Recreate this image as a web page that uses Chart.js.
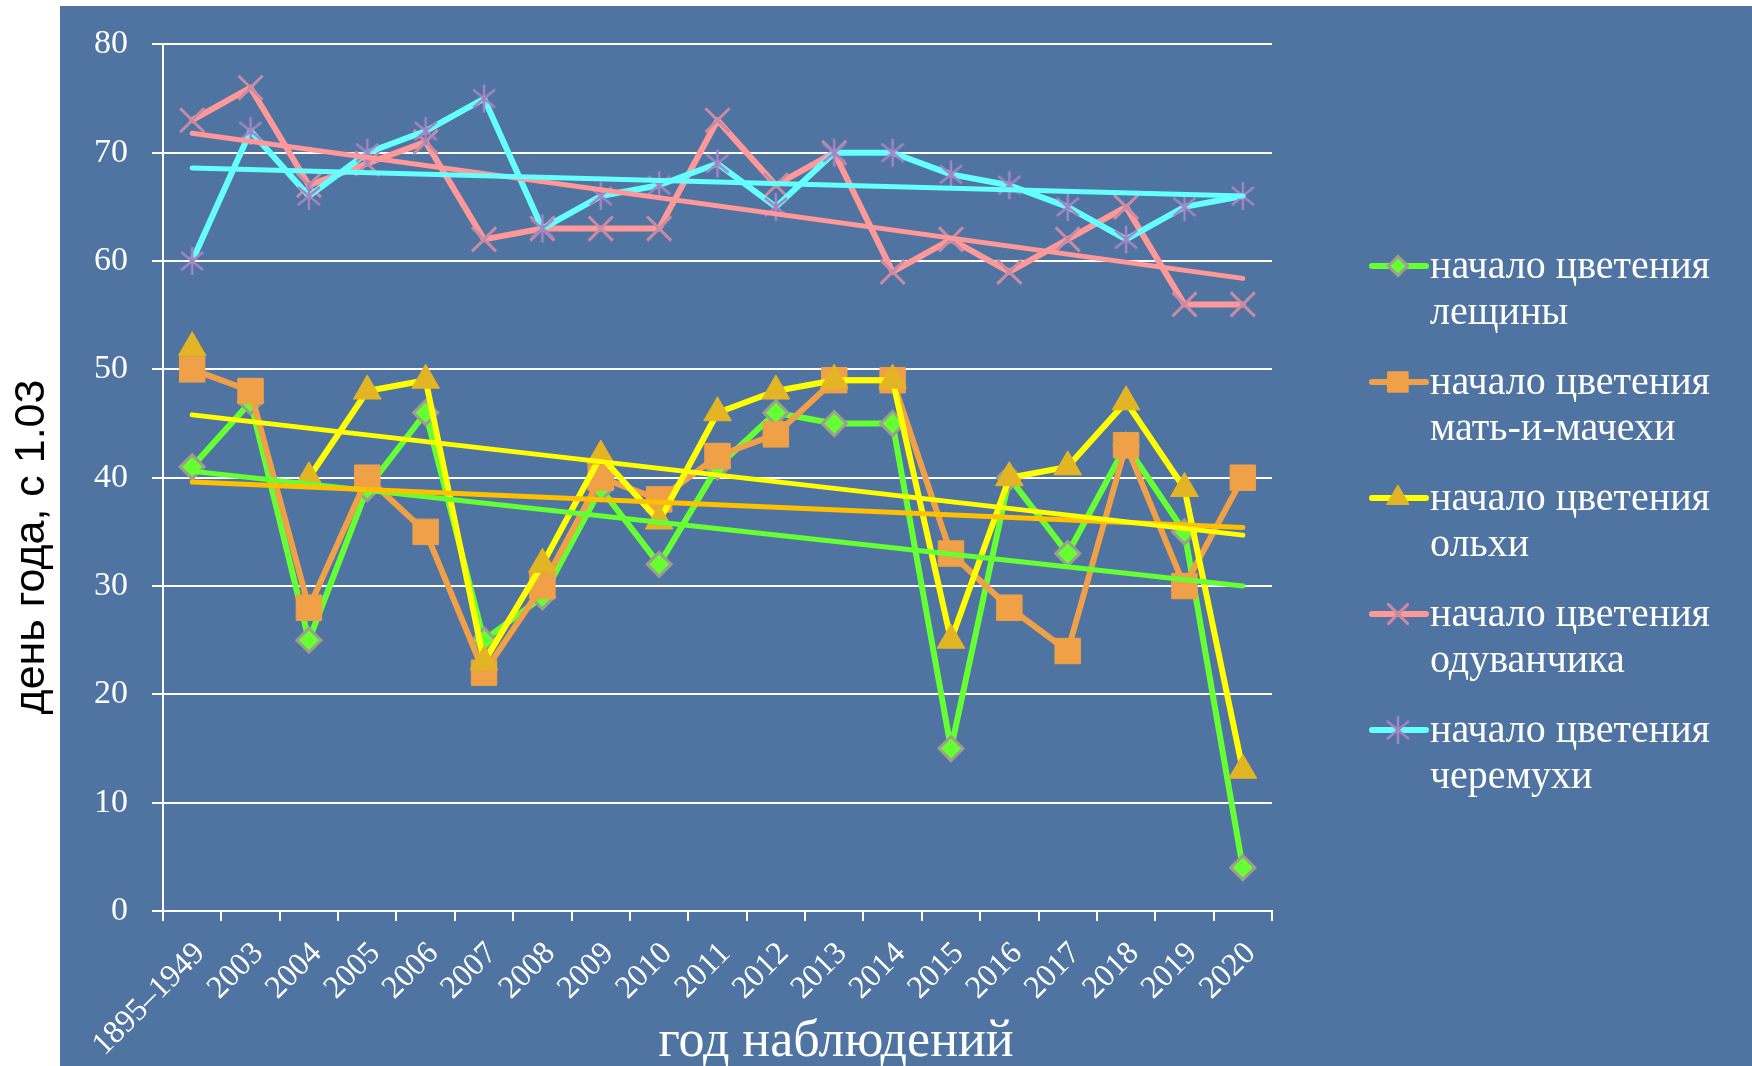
<!DOCTYPE html>
<html>
<head>
<meta charset="utf-8">
<script src="https://cdn.jsdelivr.net/npm/chart.js@4.4.1/dist/chart.umd.min.js"></script>
<style>
  html, body { margin: 0; padding: 0; background: #fff; }
  #wrap { width: 1752px; height: 1066px; }
</style>
</head>
<body>
<div id="wrap"><canvas id="myChart" width="1752" height="1066"></canvas></div>
<script>
// data
const years = ['1895–1949', '2003', '2004', '2005', '2006', '2007', '2008', '2009', '2010', '2011',
  '2012', '2013', '2014', '2015', '2016', '2017', '2018', '2019', '2020'];
const hazel = [41, 47, 25, 39, 46, 25, 29, 39, 32, 41, 46, 45, 45, 15, 40, 33, 43, 35, 4];
const coltsfoot = [50, 48, 28, 40, 35, 22, 30, 40, 38, 42, 44, 49, 49, 33, 28, 24, 43, 30, 40];
const alder = [52, null, 40, 48, 49, 23, 32, 42, 36, 46, 48, 49, 49, 25, 40, 41, 47, 39, 13];
const dandelion = [73, 76, 67, 69, 71, 62, 63, 63, 63, 73, 67, 70, 59, 62, 59, 62, 65, 56, 56];
const birdCherry = [60, 72, 66, 70, 72, 75, 63, 66, 67, 69, 65, 70, 70, 68, 67, 65, 62, 65, 66];

// trend lines: value at first and last year
const hazelTrend = [40.6, 30.0];
const coltsfootTrend = [39.6, 35.4];
const alderTrend = [45.8, 34.7];
const dandelionTrend = [71.8, 58.4];
const birdCherryTrend = [68.6, 66.0];

const seriesNames = ['начало цветения лещины', 'начало цветения мать-и-мачехи',
  'начало цветения ольхи', 'начало цветения одуванчика', 'начало цветения черемухи'];
const yTicks = [0, 10, 20, 30, 40, 50, 60, 70, 80];
const yTitle = 'день года, с 1.03';
const xTitle = 'год наблюдений';

// excel style asterisk marker (vertical bar + X)
function makeStar(color) {
  const c = document.createElement('canvas');
  c.width = 30; c.height = 30;
  const g = c.getContext('2d');
  g.strokeStyle = color;
  g.lineWidth = 2.5;
  g.beginPath();
  g.moveTo(15, 1); g.lineTo(15, 29);
  g.moveTo(4, 6); g.lineTo(26, 24);
  g.moveTo(26, 6); g.lineTo(4, 24);
  g.stroke();
  return c;
}
const starMark = makeStar('#a385c2');

function trendData(t) {
  return years.map((_, i) => i === 0 ? t[0] : (i === years.length - 1 ? t[1] : null));
}

function series(label, data, color, extra) {
  return Object.assign({
    label: label, data: data, borderColor: color, borderWidth: 6,
    borderJoinStyle: 'round', borderCapStyle: 'round', spanGaps: false
  }, extra);
}
function trend(data, color, order) {
  return {
    label: 'trend', isTrend: true, data: trendData(data), borderColor: color, borderWidth: 5,
    borderCapStyle: 'round', pointRadius: 0, spanGaps: true, order: order
  };
}

const datasets = [
  series(seriesNames[0], hazel, '#66ff33', { pointStyle: 'rectRot', pointRadius: 12,
    pointBackgroundColor: '#66ff33', pointBorderColor: '#9c9f8c', pointBorderWidth: 3, order: 10 }),
  series(seriesNames[1], coltsfoot, '#f0a046', { pointStyle: 'rect', pointRadius: 18,
    pointBackgroundColor: '#f0a046', pointBorderColor: '#f0a046', pointBorderWidth: 1, order: 9 }),
  series(seriesNames[2], alder, '#ffff00', { pointStyle: 'triangle', pointRadius: 16,
    pointBackgroundColor: '#e3b524', pointBorderColor: '#e3b524', pointBorderWidth: 1, order: 8 }),
  series(seriesNames[3], dandelion, '#ff9999', { pointStyle: 'crossRot', pointRadius: 17,
    pointBackgroundColor: '#c98aa4', pointBorderColor: '#c98aa4', pointBorderWidth: 3, order: 7 }),
  series(seriesNames[4], birdCherry, '#66ffff', { pointStyle: starMark, pointRadius: 15,
    pointBackgroundColor: '#a385c2', pointBorderColor: '#a385c2', pointBorderWidth: 0, order: 6 }),
  trend(hazelTrend, '#66ff33', 5),
  trend(coltsfootTrend, '#ffc000', 4),
  trend(alderTrend, '#ffff00', 3),
  trend(dandelionTrend, '#ff9999', 2),
  trend(birdCherryTrend, '#66ffff', 1)
];

// blue slide background, white strip on top and left
const bgPlugin = {
  id: 'bg',
  beforeDraw(chart) {
    const ctx = chart.ctx;
    ctx.save();
    ctx.fillStyle = '#ffffff';
    ctx.fillRect(0, 0, chart.width, chart.height);
    ctx.fillStyle = '#4f74a2';
    ctx.fillRect(60, 6, chart.width - 60, chart.height - 6);
    ctx.restore();
  }
};

// axis titles + two-line legend on the right
const sidePlugin = {
  id: 'side',
  afterDraw(chart) {
    const ctx = chart.ctx;
    ctx.save();
    ctx.fillStyle = '#000';
    ctx.font = '43px "Liberation Sans"';
    ctx.textAlign = 'center';
    ctx.textBaseline = 'middle';
    ctx.translate(32, 547);
    ctx.rotate(-Math.PI / 2);
    ctx.fillText(yTitle, 0, 0);
    ctx.restore();

    ctx.save();
    ctx.fillStyle = '#fff';
    ctx.font = '52px "Liberation Serif"';
    ctx.textAlign = 'center';
    ctx.textBaseline = 'middle';
    ctx.fillText(xTitle, 836, 1042);
    ctx.restore();

    const items = chart.data.datasets.filter(d => !d.isTrend);
    items.forEach((ds, i) => {
      const y = 266 + i * 116;
      ctx.save();
      ctx.strokeStyle = ds.borderColor;
      ctx.lineWidth = 6;
      ctx.lineCap = 'round';
      ctx.beginPath();
      ctx.moveTo(1372, y);
      ctx.lineTo(1426, y);
      ctx.stroke();
      ctx.fillStyle = ds.pointBackgroundColor;
      ctx.strokeStyle = ds.pointBorderColor;
      ctx.lineWidth = ds.pointBorderWidth;
      Chart.helpers.drawPoint(ctx, {
        pointStyle: ds.pointStyle, radius: ds.pointRadius * 0.8,
        borderWidth: ds.pointBorderWidth, rotation: 0
      }, 1398, y);
      ctx.fillStyle = '#fff';
      ctx.font = '40px "Liberation Serif"';
      ctx.textAlign = 'left';
      ctx.textBaseline = 'alphabetic';
      const words = ds.label.split(' ');
      ctx.fillText(words.slice(0, 2).join(' '), 1430, y + 12);
      ctx.fillText(words.slice(2).join(' '), 1430, y + 58);
      ctx.restore();
    });
  }
};

Chart.defaults.font.family = '"Liberation Serif"';

new Chart(document.getElementById('myChart').getContext('2d'), {
  type: 'line',
  data: { labels: years, datasets: datasets },
  options: {
    responsive: false,
    animation: false,
    devicePixelRatio: 1,
    layout: { padding: { top: 36, right: 480, left: 0, bottom: 0 } },
    plugins: { legend: { display: false }, tooltip: { enabled: false } },
    scales: {
      x: {
        offset: true,
        grid: { offset: true, drawOnChartArea: false, color: '#fff', lineWidth: 2, tickLength: 10 },
        border: { color: '#fff', width: 2 },
        ticks: {
          color: '#fff', font: { size: 32 }, maxRotation: 45, minRotation: 45,
          autoSkip: false, padding: 14, labelOffset: 8
        },
        afterFit(s) { s.height = 155; }
      },
      y: {
        min: 0, max: 80,
        afterBuildTicks(s) { s.ticks = yTicks.map(v => ({ value: v })); },
        grid: { color: '#fff', lineWidth: 2, tickLength: 11 },
        border: { color: '#fff', width: 2 },
        ticks: { color: '#fff', font: { size: 34 }, padding: 24 },
        afterFit(s) { s.width = 163; }
      }
    }
  },
  plugins: [bgPlugin, sidePlugin]
});
</script>
</body>
</html>
